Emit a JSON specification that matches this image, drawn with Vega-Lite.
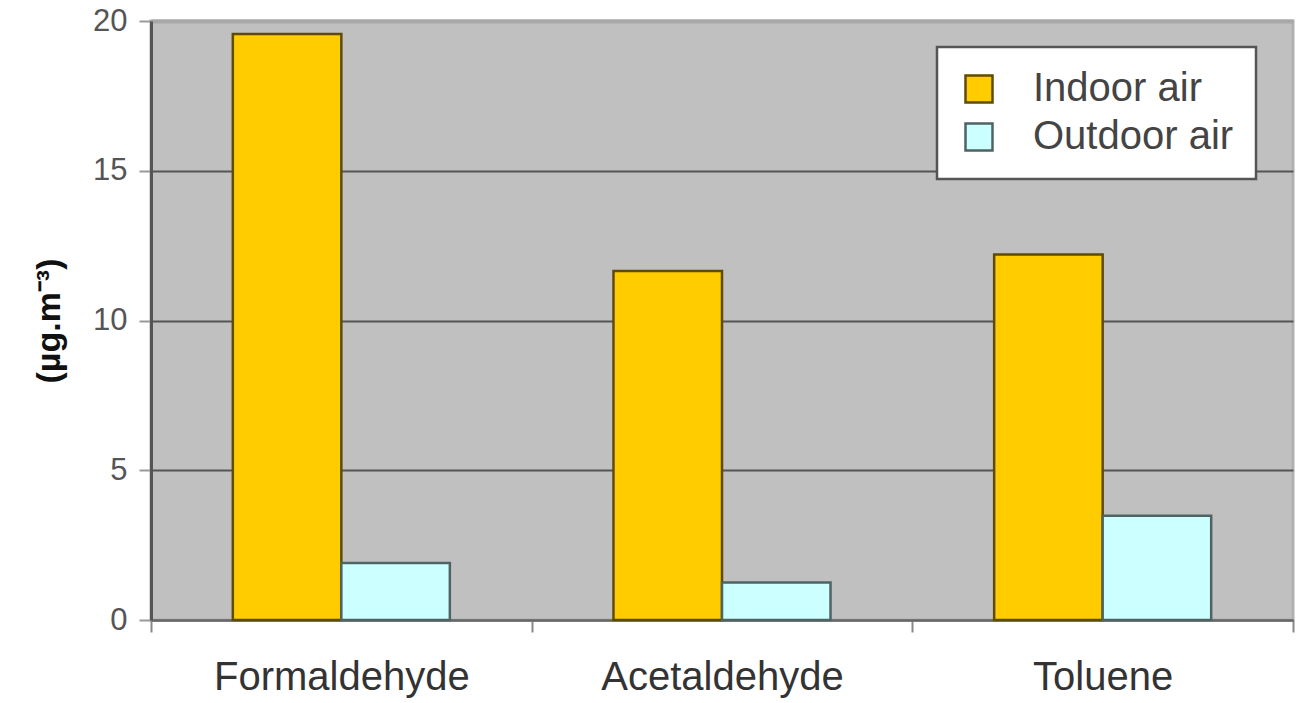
{
  "$schema": "https://vega.github.io/schema/vega-lite/v6.json",
  "autosize": "none",
  "width": 1142,
  "height": 599,
  "padding": {"left": 151, "top": 21, "right": 18, "bottom": 83},
  "background": "white",
  "config": {
    "font": "Liberation Sans",
    "view": {"fill": "#c0c0c0", "stroke": "#b0b0b0", "strokeWidth": 3}
  },
  "data": {
    "values": [
      {"compound": "Formaldehyde", "series": "Indoor air", "value": 19.57},
      {"compound": "Formaldehyde", "series": "Outdoor air", "value": 1.9},
      {"compound": "Acetaldehyde", "series": "Indoor air", "value": 11.65},
      {"compound": "Acetaldehyde", "series": "Outdoor air", "value": 1.25},
      {"compound": "Toluene", "series": "Indoor air", "value": 12.2},
      {"compound": "Toluene", "series": "Outdoor air", "value": 3.48}
    ]
  },
  "mark": {"type": "bar", "strokeWidth": 2.5},
  "encoding": {
    "x": {
      "field": "compound",
      "type": "nominal",
      "sort": null,
      "scale": {"paddingInner": 0, "paddingOuter": 0},
      "axis": {
        "title": null,
        "labelAngle": 0,
        "labelFontSize": 40,
        "labelLimit": 0,
        "labelColor": "#333333",
        "labelPadding": 25,
        "tickBand": "extent",
        "tickSize": 12,
        "tickColor": "#888888",
        "tickWidth": 2,
        "domainColor": "#666666",
        "domainWidth": 2
      }
    },
    "xOffset": {
      "field": "series",
      "type": "nominal",
      "sort": ["Indoor air", "Outdoor air"],
      "scale": {"paddingInner": 0, "paddingOuter": 0.754}
    },
    "y": {
      "field": "value",
      "type": "quantitative",
      "scale": {"domain": [0, 20], "nice": false},
      "axis": {
        "title": "(µg.m⁻³)",
        "titleFontSize": 34,
        "titleFontWeight": "bold",
        "titleColor": "#111111",
        "titlePadding": 26,
        "values": [0, 5, 10, 15, 20],
        "labelFontSize": 31,
        "labelColor": "#555555",
        "labelPadding": 12,
        "tickSize": 12,
        "tickColor": "#999999",
        "tickWidth": 2,
        "domainColor": "#555555",
        "domainWidth": 3,
        "grid": true,
        "gridColor": {"condition": {"test": "datum.value == 20", "value": "#a8a8a8"}, "value": "#555555"},
        "gridWidth": {"condition": {"test": "datum.value == 20", "value": 4}, "value": 2}
      }
    },
    "fill": {
      "field": "series",
      "type": "nominal",
      "scale": {"domain": ["Indoor air", "Outdoor air"], "range": ["#FFCC00", "#CCFFFF"]},
      "legend": {
        "title": null,
        "orient": "none",
        "legendX": 786,
        "legendY": 26,
        "padding": 22,
        "fillColor": "white",
        "strokeColor": "#555555",
        "symbolType": "square",
        "symbolSize": 729,
        "symbolStrokeWidth": 2.5,
        "labelFontSize": 40,
        "labelLimit": 0,
        "labelColor": "#444444",
        "labelOffset": 34,
        "rowPadding": 8,
        "encode": {"legend": {"update": {"strokeWidth": {"value": 2.5}}}}
      }
    },
    "stroke": {
      "field": "series",
      "type": "nominal",
      "scale": {"domain": ["Indoor air", "Outdoor air"], "range": ["#5e4b00", "#4f6363"]},
      "legend": {
        "title": null,
        "orient": "none",
        "legendX": 786,
        "legendY": 26,
        "padding": 22,
        "fillColor": "white",
        "strokeColor": "#555555",
        "symbolType": "square",
        "symbolSize": 729,
        "symbolStrokeWidth": 2.5,
        "labelFontSize": 40,
        "labelLimit": 0,
        "labelColor": "#444444",
        "labelOffset": 34,
        "rowPadding": 8,
        "encode": {"legend": {"update": {"strokeWidth": {"value": 2.5}}}}
      }
    }
  }
}
